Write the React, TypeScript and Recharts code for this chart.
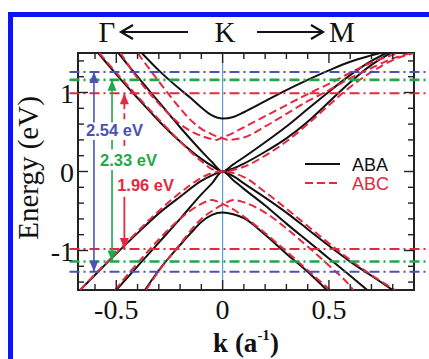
import React from 'react';
import {
  LineChart,
  Line,
  XAxis,
  YAxis,
  ReferenceLine,
  ReferenceDot,
  ReferenceArea,
} from 'recharts';

type Pt = [number, number]; // [k (1/a), energy (eV)]

// ABA stacking (black, solid)
const abaUpperSplit: Pt[] = [[-0.38, 1.5], [-0.3, 1.28], [-0.2, 1.04], [-0.15, 0.93], [-0.1, 0.81], [-0.05, 0.71], [0, 0.67], [0.05, 0.69], [0.1, 0.75], [0.2, 0.89], [0.3, 1.03], [0.4, 1.16], [0.5, 1.28], [0.6, 1.39], [0.7, 1.47], [0.74, 1.5]];
const abaUpperMid: Pt[] = [[-0.49, 1.5], [-0.4, 1.2], [-0.3, 0.88], [-0.2, 0.56], [-0.1, 0.26], [-0.05, 0.12], [0, 0], [0.05, 0.09], [0.1, 0.18], [0.2, 0.37], [0.3, 0.57], [0.4, 0.79], [0.5, 1.01], [0.6, 1.22], [0.7, 1.4], [0.77, 1.5]];
const abaUpperOuter: Pt[] = [[-0.585, 1.5], [-0.5, 1.23], [-0.4, 0.93], [-0.3, 0.64], [-0.2, 0.38], [-0.1, 0.16], [-0.05, 0.07], [0, 0], [0.05, 0.04], [0.1, 0.1], [0.2, 0.25], [0.3, 0.42], [0.4, 0.63], [0.5, 0.88], [0.6, 1.13], [0.7, 1.35], [0.79, 1.5]];
const abaLowerSplit: Pt[] = [[-0.365, -1.5], [-0.3, -1.25], [-0.2, -0.93], [-0.15, -0.78], [-0.1, -0.64], [-0.05, -0.55], [0, -0.52], [0.05, -0.54], [0.1, -0.59], [0.2, -0.8], [0.3, -1.04], [0.4, -1.27], [0.49, -1.5]];
const abaLowerMid: Pt[] = [[-0.5, -1.5], [-0.4, -1.2], [-0.3, -0.9], [-0.2, -0.6], [-0.1, -0.29], [-0.05, -0.15], [0, 0], [0.05, -0.11], [0.1, -0.22], [0.2, -0.43], [0.3, -0.66], [0.4, -0.88], [0.5, -1.1], [0.6, -1.32], [0.68, -1.5]];
const abaLowerOuter: Pt[] = [[-0.67, -1.5], [-0.6, -1.31], [-0.5, -1.04], [-0.4, -0.78], [-0.3, -0.53], [-0.2, -0.32], [-0.1, -0.12], [-0.05, -0.05], [0, 0], [0.05, -0.06], [0.1, -0.15], [0.2, -0.33], [0.3, -0.52], [0.4, -0.73], [0.5, -0.94], [0.6, -1.14], [0.7, -1.32], [0.8, -1.5]];

// ABC stacking (red, dashed)
const abcUpperLow: Pt[] = [[-0.58, 1.5], [-0.5, 1.25], [-0.4, 0.95], [-0.3, 0.66], [-0.2, 0.38], [-0.1, 0.13], [-0.05, 0.03], [0, 0], [0.05, 0.02], [0.1, 0.06], [0.2, 0.2], [0.3, 0.38], [0.4, 0.6], [0.5, 0.84], [0.6, 1.07], [0.7, 1.26], [0.8, 1.41], [0.9, 1.5]];
const abcUpperA: Pt[] = [[-0.48, 1.5], [-0.4, 1.18], [-0.3, 0.86], [-0.2, 0.6], [-0.1, 0.45], [-0.05, 0.41], [-0.03, 0.4], [0, 0.43], [0.05, 0.49], [0.1, 0.56], [0.2, 0.7], [0.3, 0.84], [0.4, 0.98], [0.5, 1.11], [0.6, 1.25], [0.7, 1.38], [0.83, 1.5]];
const abcUpperB: Pt[] = [[-0.4, 1.5], [-0.3, 1.14], [-0.2, 0.8], [-0.15, 0.65], [-0.1, 0.54], [-0.05, 0.47], [0, 0.42], [0.03, 0.4], [0.05, 0.405], [0.1, 0.43], [0.2, 0.57], [0.3, 0.73], [0.4, 0.89], [0.5, 1.03], [0.6, 1.18], [0.7, 1.31], [0.8, 1.43], [0.89, 1.5]];
const abcLowerLow: Pt[] = [[-0.67, -1.5], [-0.6, -1.3], [-0.5, -1.03], [-0.4, -0.76], [-0.3, -0.5], [-0.2, -0.27], [-0.1, -0.08], [-0.05, -0.02], [0, 0], [0.05, -0.02], [0.1, -0.07], [0.2, -0.26], [0.3, -0.47], [0.4, -0.69], [0.5, -0.91], [0.6, -1.12], [0.7, -1.31], [0.81, -1.5]];
const abcLowerA: Pt[] = [[-0.506, -1.5], [-0.4, -1.16], [-0.3, -0.86], [-0.2, -0.6], [-0.1, -0.41], [-0.05, -0.36], [0, -0.41], [0.05, -0.48], [0.1, -0.57], [0.2, -0.78], [0.3, -1.01], [0.4, -1.25], [0.505, -1.5]];
const abcLowerB: Pt[] = [[-0.36, -1.5], [-0.3, -1.26], [-0.2, -0.92], [-0.1, -0.6], [-0.05, -0.5], [0, -0.42], [0.05, -0.36], [0.1, -0.39], [0.2, -0.52], [0.3, -0.72], [0.4, -0.95], [0.5, -1.19], [0.6, -1.45], [0.615, -1.5]];

const abaBands = [abaUpperSplit, abaUpperMid, abaUpperOuter, abaLowerSplit, abaLowerMid, abaLowerOuter];
const abcBands = [abcUpperLow, abcUpperA, abcUpperB, abcLowerLow, abcLowerA, abcLowerB];

// optical transitions: blue, green, red
const gapLabels = ['2.54 eV', '2.33 eV', '1.96 eV'];
const gapTop = [1.26, 1.16, 0.99];
const gapBottom = [-1.27, -1.14, -0.98];
const gapArrowK = [-0.605, -0.52, -0.462];
const gapLabelK = [-0.642, -0.576, -0.496];
const gapLabelE = [0.52, 0.15, -0.17];
// arrow shafts, broken where the labels sit
const blueShaft: Pt[] = [[1.26, 0.62], [0.4, -1.27]];
const greenShaft: Pt[] = [[1.16, 0.62], [0.4, 0.28], [0.02, -1.14]];
const redShaftDashed: Pt[] = [[0.99, 0.62], [0.4, 0.28]];
const redShaftSolid: Pt[] = [[-0.32, -0.98]];

const xTicks = [-0.6, -0.5, -0.4, -0.3, -0.2, -0.1, 0, 0.1, 0.2, 0.3, 0.4, 0.5, 0.6, 0.7, 0.8];
const xLabels: Record<string, string> = { '-0.5': '-0.5', '0': '0', '0.5': '0.5' };
const yTicks = [-1.4, -1.2, -1, -0.8, -0.6, -0.4, -0.2, 0, 0.2, 0.4, 0.6, 0.8, 1, 1.2, 1.4];
const yLabels: Record<string, string> = { '-1': '-1', '0': '0', '1': '1' };

const W = 429;
const H = 359;
const MARGIN = { top: 53, right: 15, bottom: 29, left: 0 };
const Y_AXIS_W = 78;
const X_AXIS_H = 40;
const PLOT_W = W - MARGIN.left - MARGIN.right - Y_AXIS_W;
const PLOT_H = H - MARGIN.top - MARGIN.bottom - X_AXIS_H;

const BLUE = '#4b52b3';
const GREEN = '#1fa84a';
const RED = '#e5283f';
const SERIF = '"Liberation Serif", "Times New Roman", serif';
const SANS = '"Liberation Sans", Arial, sans-serif';

const toRows = (pts: Pt[]) => pts.map(([k, e]) => ({ k, e }));

const XTick = (props: any) => {
  const { x, y, payload } = props;
  const label = xLabels[String(payload.value)];
  const len = label ? 10 : 6;
  return (
    <g>
      <line x1={x} x2={x} y1={y} y2={y - len} stroke="#222" strokeWidth={1.4} />
      <line x1={x} x2={x} y1={y - PLOT_H} y2={y - PLOT_H + len} stroke="#222" strokeWidth={1.4} />
      {label && (
        <text x={x} y={y + 19} textAnchor="middle" dominantBaseline="central" fontFamily={SERIF} fontSize={28} fill="#111">
          {label}
        </text>
      )}
    </g>
  );
};

const YTick = (props: any) => {
  const { x, y, payload } = props;
  const label = yLabels[String(payload.value)];
  const len = label ? 10 : 6;
  return (
    <g>
      <line x1={x} x2={x + len} y1={y} y2={y} stroke="#222" strokeWidth={1.4} />
      <line x1={x + PLOT_W} x2={x + PLOT_W - len} y1={y} y2={y} stroke="#222" strokeWidth={1.4} />
      {label && (
        <text x={x - 4} y={y + 1} textAnchor="end" dominantBaseline="central" fontFamily={SERIF} fontSize={28} fill="#111">
          {label}
        </text>
      )}
    </g>
  );
};

const headUp = (color: string) => (p: any) => (
  <polygon points={`${p.cx},${p.cy} ${p.cx - 4.5},${p.cy + 11} ${p.cx + 4.5},${p.cy + 11}`} fill={color} />
);
const headDown = (color: string) => (p: any) => (
  <polygon points={`${p.cx},${p.cy} ${p.cx - 4.5},${p.cy - 11} ${p.cx + 4.5},${p.cy - 11}`} fill={color} />
);
const gapText = (text: string, color: string) => (p: any) => (
  <text x={p.cx} y={p.cy} dominantBaseline="central" fontFamily={SANS} fontWeight="bold" fontSize={16.5} fill={color}>
    {text}
  </text>
);

const gapColors = [BLUE, GREEN, RED];

export default function App() {
  return (
    <div style={{ position: 'absolute', left: 0, top: 0, width: W, height: H, overflow: 'hidden', background: '#fff' }}>
      <div
        style={{
          position: 'absolute',
          left: 8,
          top: 12,
          width: 460,
          height: 400,
          borderLeft: '5px solid #0a14f5',
          borderTop: '5px solid #0a14f5',
          boxSizing: 'border-box',
        }}
      />
      <div style={{ position: 'absolute', left: 0, top: 0 }}>
        <LineChart width={W} height={H} margin={MARGIN}>
          <XAxis
            dataKey="k"
            type="number"
            domain={[-0.68, 0.9]}
            allowDataOverflow
            ticks={xTicks}
            interval={0}
            height={X_AXIS_H}
            tickSize={0}
            tickMargin={0}
            tickLine={false}
            axisLine={false}
            tick={XTick}
          />
          <YAxis
            type="number"
            domain={[-1.5, 1.5]}
            allowDataOverflow
            ticks={yTicks}
            interval={0}
            width={Y_AXIS_W}
            tickSize={0}
            tickMargin={0}
            tickLine={false}
            axisLine={false}
            tick={YTick}
          />
          <ReferenceLine x={0} stroke="#5f9fd6" strokeWidth={1.2} />
          {abaBands.map((band, i) => (
            <Line
              key={`aba-${i}`}
              data={toRows(band)}
              dataKey="e"
              type="monotone"
              stroke="#111"
              strokeWidth={2}
              dot={false}
              isAnimationActive={false}
            />
          ))}
          {abcBands.map((band, i) => (
            <Line
              key={`abc-${i}`}
              data={toRows(band)}
              dataKey="e"
              type="monotone"
              stroke={RED}
              strokeWidth={2}
              strokeDasharray="8 4"
              dot={false}
              isAnimationActive={false}
            />
          ))}
          {gapTop.map((lvl, i) => (
            <ReferenceLine
              key={`gt-${i}`}
              segment={[{ x: -0.72, y: lvl }, { x: 1.0, y: lvl }]}
              ifOverflow="visible"
              stroke={gapColors[i]}
              strokeWidth={i === 1 ? 2.6 : 2}
              strokeDasharray="10 4 2 4"
            />
          ))}
          {gapBottom.map((lvl, i) => (
            <ReferenceLine
              key={`gb-${i}`}
              segment={[{ x: -0.72, y: lvl }, { x: 1.0, y: lvl }]}
              ifOverflow="visible"
              stroke={gapColors[i]}
              strokeWidth={i === 1 ? 2.6 : 2}
              strokeDasharray="10 4 2 4"
            />
          ))}
          {blueShaft.map(([a, b], j) => (
            <ReferenceLine key={`bs-${j}`} segment={[{ x: gapArrowK[0], y: a }, { x: gapArrowK[0], y: b }]} stroke={BLUE} strokeWidth={1.6} />
          ))}
          {greenShaft.map(([a, b], j) => (
            <ReferenceLine key={`gs-${j}`} segment={[{ x: gapArrowK[1], y: a }, { x: gapArrowK[1], y: b }]} stroke={GREEN} strokeWidth={1.6} />
          ))}
          {redShaftDashed.map(([a, b], j) => (
            <ReferenceLine key={`rd-${j}`} segment={[{ x: gapArrowK[2], y: a }, { x: gapArrowK[2], y: b }]} stroke={RED} strokeWidth={1.8} strokeDasharray="6 4" />
          ))}
          {redShaftSolid.map(([a, b], j) => (
            <ReferenceLine key={`rs-${j}`} segment={[{ x: gapArrowK[2], y: a }, { x: gapArrowK[2], y: b }]} stroke={RED} strokeWidth={1.8} />
          ))}
          {gapTop.map((lvl, i) => (
            <ReferenceDot key={`hu-${i}`} x={gapArrowK[i]} y={lvl} r={0} shape={headUp(gapColors[i])} />
          ))}
          {gapBottom.map((lvl, i) => (
            <ReferenceDot key={`hd-${i}`} x={gapArrowK[i]} y={lvl} r={0} shape={headDown(gapColors[i])} />
          ))}
          {gapLabels.map((txt, i) => (
            <ReferenceDot key={`gl-${i}`} x={gapLabelK[i]} y={gapLabelE[i]} r={0} shape={gapText(txt, gapColors[i])} />
          ))}
          <ReferenceArea x1={-0.68} x2={0.9} y1={-1.5} y2={1.5} fill="none" stroke="#222" strokeWidth={2} />
        </LineChart>
      </div>
      <svg width={W} height={H} style={{ position: 'absolute', left: 0, top: 0, pointerEvents: 'none' }}>
        {/* direction header */}
        <text x={107} y={42} textAnchor="middle" fontFamily={SERIF} fontSize={29} fill="#111">Γ</text>
        <text x={225} y={42} textAnchor="middle" fontFamily={SERIF} fontSize={29} fill="#111">K</text>
        <text x={342} y={42} textAnchor="middle" fontFamily={SERIF} fontSize={29} fill="#111">M</text>
        <line x1={121} x2={188} y1={32} y2={32} stroke="#111" strokeWidth={2} />
        <polyline points="133,25 121,32 133,39" fill="none" stroke="#111" strokeWidth={2.2} />
        <line x1={257} x2={323} y1={32} y2={32} stroke="#111" strokeWidth={2} />
        <polyline points="311,25 323,32 311,39" fill="none" stroke="#111" strokeWidth={2.2} />
        {/* axis titles */}
        <text
          x={28}
          y={168}
          transform="rotate(-90 28 168)"
          textAnchor="middle"
          dominantBaseline="central"
          fontFamily={SERIF}
          fontSize={29}
          fill="#111"
        >
          Energy (eV)
        </text>
        <text x={246} y={352} textAnchor="middle" fontFamily={SERIF} fontWeight="bold" fontSize={27} fill="#111">
          k (a<tspan fontSize={15} dy={-12}>-1</tspan><tspan dy={12}>)</tspan>
        </text>
        {/* legend */}
        <line x1={305} x2={340} y1={164} y2={164} stroke="#111" strokeWidth={2} />
        <text x={352} y={165} dominantBaseline="central" fontFamily={SANS} fontSize={18} fill="#111">ABA</text>
        <line x1={305} x2={340} y1={183} y2={183} stroke={RED} strokeWidth={2} strokeDasharray="8 4" />
        <text x={352} y={184} dominantBaseline="central" fontFamily={SANS} fontSize={18} fill={RED}>ABC</text>
      </svg>
    </div>
  );
}
